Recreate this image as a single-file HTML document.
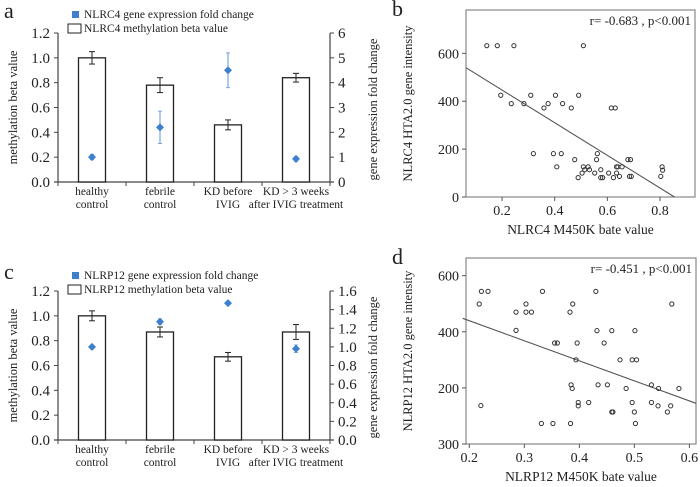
<!DOCTYPE html>
<html><head><meta charset="utf-8"><style>
html,body{margin:0;padding:0;background:#fff;}
svg{display:block;font-family:"Liberation Serif",serif;}
</style></head><body>
<svg id="fig" width="700" height="487" viewBox="0 0 700 487"></svg>
<script>
// ---- Panel a data ----
const catsA = [["healthy","control"],["febrile","control"],["KD before","IVIG"],["KD > 3 weeks","after IVIG treatment"]];
const barsA = [1.0, 0.78, 0.46, 0.84];
const barErrA = [0.05, 0.06, 0.04, 0.035];
const foldA = [1.0, 2.2, 4.5, 0.93];
const foldErrA = [0.1, 0.65, 0.7, 0.1];
const leftTicksA = [0,0.2,0.4,0.6,0.8,1.0,1.2];
const rightTicksA = [0,1,2,3,4,5,6];
// ---- Panel c data ----
const catsC = [["healthy","control"],["febrile","control"],["KD before","IVIG"],["KD > 3 weeks","after IVIG treatment"]];
const barsC = [1.0, 0.87, 0.67, 0.87];
const barErrC = [0.04, 0.04, 0.035, 0.06];
const foldC = [1.0, 1.27, 1.47, 0.98];
const foldErrC = [0.02, 0.03, 0.01, 0.04];
const leftTicksC = [0,0.2,0.4,0.6,0.8,1.0,1.2];
const rightTicksC = [0,0.2,0.4,0.6,0.8,1.0,1.2,1.4,1.6];
// ---- Panel b data ----
const bX = [0.142,0.182,0.245,0.509,0.195,0.235,0.283,0.309,0.319,0.359,0.375,0.403,0.395,0.408,0.425,0.430,0.463,0.476,0.489,0.491,0.504,0.509,0.514,0.527,0.532,0.552,0.559,0.562,0.575,0.575,0.582,0.605,0.615,0.630,0.623,0.635,0.635,0.640,0.656,0.646,0.678,0.688,0.684,0.691,0.808,0.810,0.803];
const bY = [632,632,632,632,425,390,390,425,181,372,390,425,181,126,181,390,372,156,81,425,100,126,114,126,114,100,156,181,114,81,81,100,372,372,81,126,100,126,126,86,156,156,86,86,126,112,86];
const bLineX = [0.063, 0.855];
const bLineY = [540, 0];
const bXTicks = [0.2,0.4,0.6,0.8];
const bYTicks = [0,200,400,600];
// ---- Panel d data ----
const dX = [0.218,0.222,0.234,0.221,0.285,0.285,0.303,0.303,0.313,0.333,0.331,0.352,0.355,0.360,0.383,0.388,0.385,0.387,0.384,0.394,0.396,0.398,0.398,0.417,0.430,0.432,0.434,0.445,0.451,0.459,0.459,0.461,0.474,0.485,0.496,0.496,0.500,0.502,0.504,0.501,0.531,0.531,0.544,0.543,0.560,0.566,0.568,0.581];
const dY = [499,544,544,137,405,470,499,470,470,544,73,73,360,360,470,499,211,198,73,300,360,148,136,148,544,404,211,360,211,404,114,114,300,198,300,148,114,73,300,404,211,148,198,136,114,136,499,198];
const dLineX = [0.188, 0.612];
const dLineY = [448, 145];
const dXTicks = [0.2,0.3,0.4,0.5,0.6];
const dYTicks = [0,200,400,600];
const dYTickLabels = ["300","200","400","600"];

const NS = "http://www.w3.org/2000/svg";
const svg = document.getElementById('fig');
function mk(tag, attrs, parent, text){
  const e = document.createElementNS(NS, tag);
  for (const k in attrs) e.setAttribute(k, attrs[k]);
  if (text !== undefined) e.textContent = text;
  (parent||svg).appendChild(e);
  return e;
}
function lbl(x,y,t,name,size,anchor,rot){
  const a = {x:x,y:y,'font-size':size,'text-anchor':anchor||'middle',fill:'#222'};
  if (rot) a.transform = 'rotate(-90 '+x+' '+y+')';
  const e = mk('text', a, svg, t);
  
  
  return e;
}

function barPanel(oy, legY, cats, bars, barErr, fold, foldErr, lt, rt, rmax, letter, gene, fmtR){
  const x0=58, x1=330, yTop=oy+33, yBot=oy+182;
  const yL = v => yBot - v/1.2*(yBot-yTop);
  const yR = v => yBot - v/rmax*(yBot-yTop);
  const slot = (x1-x0)/cats.length;
  const cx = i => x0 + slot*(i+0.5);
  lbl(4, legY+3, letter, 'panel-label-'+letter, 22, 'start');
  let e = mk('line',{x1:x0,y1:yTop,x2:x0,y2:yBot,stroke:'#444','stroke-width':1.2});  
  e = mk('line',{x1:x1,y1:yTop,x2:x1,y2:yBot,stroke:'#444','stroke-width':1.2});  
  e = mk('line',{x1:x0-4,y1:yBot,x2:x1+4,y2:yBot,stroke:'#444','stroke-width':1.2});  
  for (let i=0;i<=cats.length;i++){ mk('line',{x1:x0+slot*i,y1:yBot,x2:x0+slot*i,y2:yBot+4,stroke:'#444'}); }
  lt.forEach(v=>{ const y=yL(v); mk('line',{x1:x0-4,y1:y,x2:x0,y2:y,stroke:'#444'});
    lbl(x0-8, y+5, v.toFixed(1), 'left-tick-label', 15, 'end'); });
  rt.forEach(v=>{ const y=yR(v); mk('line',{x1:x1,y1:y,x2:x1+4,y2:y,stroke:'#444'});
    lbl(x1+8, y+5, fmtR(v), 'right-tick-label', 15, 'start'); });
  lbl(17, (yTop+yBot)/2, 'methylation beta value', 'left-axis-title', 12.5, 'middle', true);
  lbl(377, (yTop+yBot)/2+2, 'gene expression fold change', 'right-axis-title', 12.5, 'middle', true);
  const bw = 27;
  bars.forEach((v,i)=>{
    const r = mk('rect',{x:cx(i)-bw/2,y:yL(v),width:bw,height:yBot-yL(v),fill:'#fff',stroke:'#222','stroke-width':1.3});
     
    const a=yL(v+barErr[i]), b=yL(v-barErr[i]);
    mk('line',{x1:cx(i),y1:a,x2:cx(i),y2:b,stroke:'#222'});
    mk('line',{x1:cx(i)-3,y1:a,x2:cx(i)+3,y2:a,stroke:'#222'});
    mk('line',{x1:cx(i)-3,y1:b,x2:cx(i)+3,y2:b,stroke:'#222'});
  });
  fold.forEach((v,i)=>{
    const a=yR(v+foldErr[i]), b=yR(v-foldErr[i]);
    mk('line',{x1:cx(i),y1:a,x2:cx(i),y2:b,stroke:'#7aa7dc','stroke-width':1.2});
    mk('line',{x1:cx(i)-2,y1:a,x2:cx(i)+2,y2:a,stroke:'#7aa7dc'});
    mk('line',{x1:cx(i)-2,y1:b,x2:cx(i)+2,y2:b,stroke:'#7aa7dc'});
    const y=yR(v);
    const p = mk('path',{d:`M${cx(i)} ${y-4}L${cx(i)+4} ${y}L${cx(i)} ${y+4}L${cx(i)-4} ${y}Z`,fill:'#3f7fcf'});
     
  });
  cats.forEach((c,i)=>{
    lbl(cx(i), yBot+13, c[0], 'category-label', 11.5, 'middle');
    lbl(cx(i), yBot+26, c[1], 'category-label', 11.5, 'middle');
  });
  const lg = mk('g',{});  
  mk('rect',{x:72,y:legY-4,width:7,height:7,fill:'#3f7fcf'},lg);
  mk('text',{x:84,y:legY+3,'font-size':11.5,fill:'#222'},lg,gene+' gene expression fold change');
  mk('rect',{x:68,y:legY+9,width:13,height:9,fill:'#fff',stroke:'#222'},lg);
  mk('text',{x:84,y:legY+17,'font-size':11.5,fill:'#222'},lg,gene+' methylation beta value');
}
barPanel(0, 15, catsA, barsA, barErrA, foldA, foldErrA, leftTicksA, rightTicksA, 6, 'a', 'NLRC4', v=>String(v));
barPanel(258, 276, catsC, barsC, barErrC, foldC, foldErrC, leftTicksC, rightTicksC, 1.6, 'c', 'NLRP12', v=>v.toFixed(1));

function scatter(box, xlim, ylim, xs, ys, lx, ly, xt, yt, ytl, letter, rtext, xtitle, ytitle){
  const [bx0,by0,bx1,by1]=box;
  const X = v => bx0 + (v-xlim[0])/(xlim[1]-xlim[0])*(bx1-bx0);
  const Y = v => by1 - (v-ylim[0])/(ylim[1]-ylim[0])*(by1-by0);
  lbl(392, by0+6, letter, 'panel-label-'+letter, 22, 'start');
  const r = mk('rect',{x:bx0,y:by0,width:bx1-bx0,height:by1-by0,fill:'#fff',stroke:'#888','stroke-width':1.2});
   
  xt.forEach(v=>{ mk('line',{x1:X(v),y1:by1,x2:X(v),y2:by1+4,stroke:'#555'});
    lbl(X(v), by1+18, String(v), 'x-tick-label', 14, 'middle'); });
  yt.forEach((v,i)=>{ mk('line',{x1:bx0-4,y1:Y(v),x2:bx0,y2:Y(v),stroke:'#555'});
    lbl(bx0-7, Y(v)+5, ytl[i], 'y-tick-label', 14, 'end'); });
  const ln = mk('line',{x1:X(lx[0]),y1:Y(ly[0]),x2:X(lx[1]),y2:Y(ly[1]),stroke:'#555','stroke-width':1.1});
   
  xs.forEach((v,i)=>{
    const c = mk('circle',{cx:X(v),cy:Y(ys[i]),r:2.1,fill:'none',stroke:'#333','stroke-width':1});
     
  });
  lbl(bx1-4, by0+15, rtext, 'correlation-annotation', 13, 'end');
  lbl((bx0+bx1)/2, by1+37, xtitle, 'x-axis-title', 13.5, 'middle');
  lbl(412, (by0+by1)/2, ytitle, 'y-axis-title', 12.5, 'middle', true);
}
scatter([466,10,695,197],[0.063,0.933],[0,781],bX,bY,bLineX,bLineY,bXTicks,bYTicks,bYTicks.map(String),'b','r= -0.683 , p<0.001','NLRC4 M450K bate value','NLRC4 HTA2.0 gene intensity');
scatter([466,258,696,444],[0.194,0.612],[0,663],dX,dY,dLineX,dLineY,dXTicks,dYTicks,dYTickLabels,'d','r= -0.451 , p<0.001','NLRP12 M450K bate value','NLRP12 HTA2.0 gene intensity');
</script>
</body></html>
